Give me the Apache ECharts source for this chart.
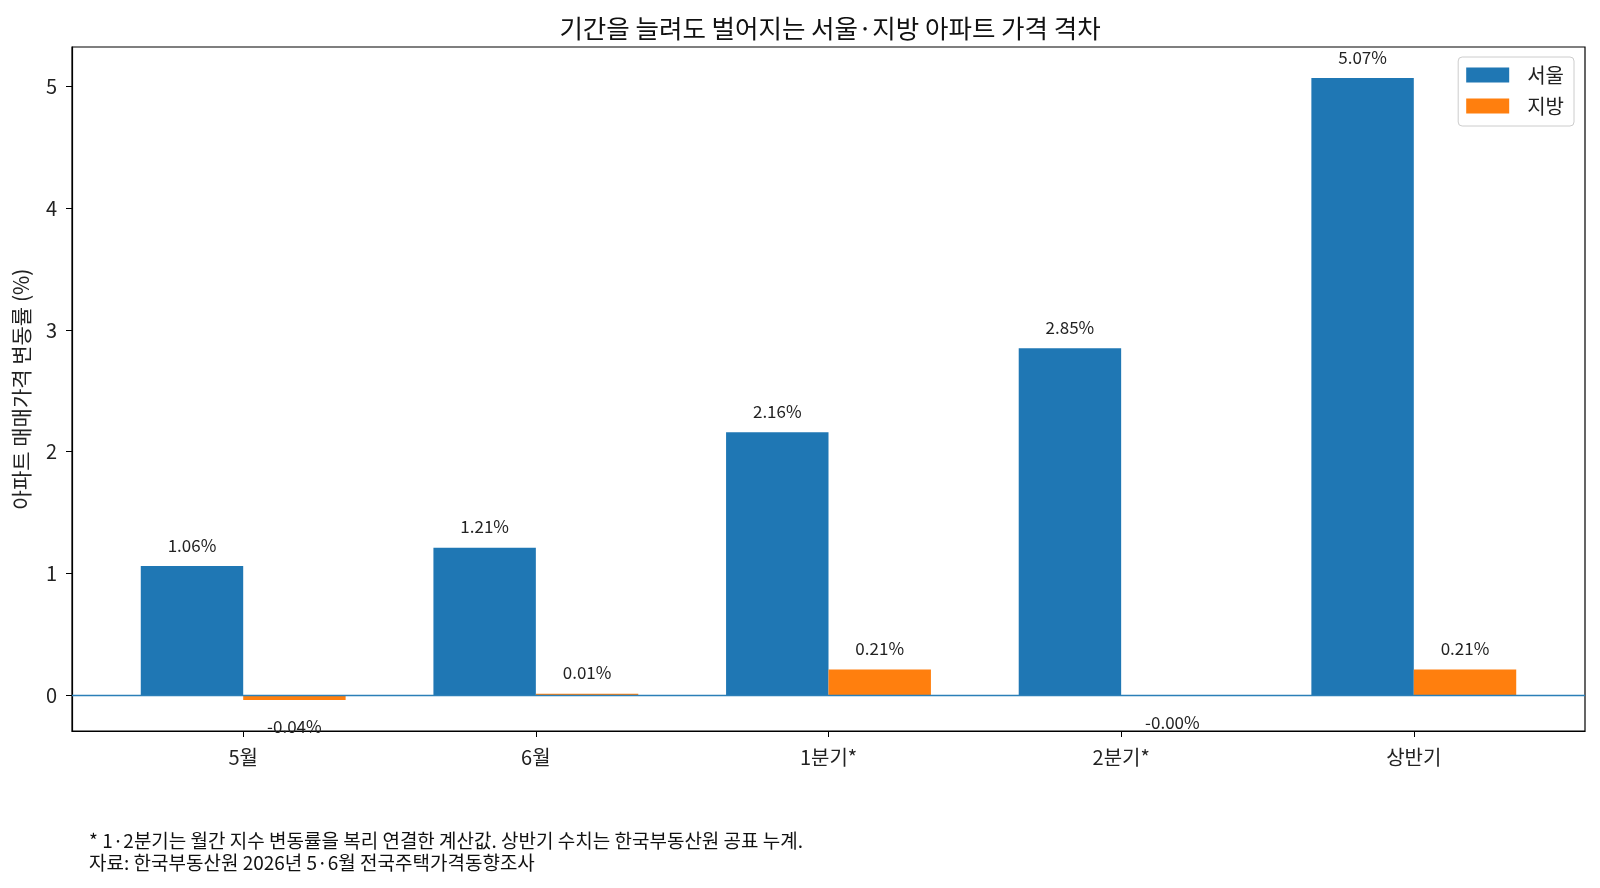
<!DOCTYPE html>
<html><head><meta charset="utf-8">
<script src="https://cdn.jsdelivr.net/npm/echarts@6/dist/echarts.min.js"></script>
<style>html,body{margin:0;padding:0;background:#fff;overflow:hidden}#c{width:1600px;height:888px}</style>
</head><body><div id="c"></div>
<script>
const categories = ['5월', '6월', '1분기*', '2분기*', '상반기'];
const seoul = [1.06, 1.21, 2.16, 2.85, 5.07];
const jibang = [-0.04, 0.01, 0.21, -0.002, 0.21];
const seriesNames = ['서울', '지방'];
const yTicks = [0, 1, 2, 3, 4, 5];
const title = '기간을 늘려도 벌어지는 서울·지방 아파트 가격 격차';
const yName = '아파트 매매가격 변동률 (%)';
const footnote = '* 1·2분기는 월간 지수 변동률을 복리 연결한 계산값. 상반기 수치는 한국부동산원 공표 누계.\n자료: 한국부동산원 2026년 5·6월 전국주택가격동향조사';

const FONT = '"Noto Sans CJK KR", "Noto Sans", sans-serif';
const colors = ['#1f77b4', '#ff7f0e'];
const BW = 0.35;

function fmt(v){ return v.toFixed(2) + '%'; }

function makeRender(s){
  return function(params, api){
    const i = api.value(0), v = api.value(1);
    const x0 = s === 0 ? i - BW : i;
    const p0 = api.coord([x0, v]);
    const p1 = api.coord([x0 + BW, 0]);
    const top = Math.min(p0[1], p1[1]);
    const h = Math.abs(p1[1] - p0[1]);
    const cx = (p0[0] + p1[0]) / 2;
    const pos = v >= 0;
    return {
      type: 'group',
      children: [
        { type: 'rect', shape: { x: p0[0], y: top, width: p1[0] - p0[0], height: h },
          style: { fill: colors[s] } },
        { type: 'text', z2: 10,
          style: { text: fmt(v), x: cx, y: pos ? top - 21 : top + h + 27,
            align: 'center', verticalAlign: 'middle',
            fontSize: 17, fontFamily: FONT, fill: '#222' } }
      ]
    };
  };
}

const chart = echarts.init(document.getElementById('c'));
chart.setOption({
  animation: false,
  title: { text: title, left: 825, top: 11, textAlign: 'center',
    textStyle: { fontSize: 25.5, fontWeight: 'normal', fontFamily: FONT, color: '#111' } },
  grid: { left: 72, right: 15, top: 47, bottom: 157, show: true, borderColor: '#000', borderWidth: 1.2, containLabel: false },
  legend: {
    orient: 'vertical', right: 26, top: 57, padding: [6, 10, 8, 8],
    backgroundColor: '#fff', borderColor: '#ccc', borderWidth: 1, borderRadius: 4,
    itemWidth: 43, itemHeight: 15, itemGap: 7,
    data: seriesNames.map((n, k) => ({ name: n, icon: 'rect', itemStyle: { color: colors[k] } })),
    textStyle: { fontSize: 20, lineHeight: 24, fontFamily: FONT, color: '#222', padding: [0, 0, 0, 13] }
  },
  xAxis: {
    type: 'value', min: -0.585, max: 4.585,
    axisLine: { show: true, onZero: false, lineStyle: { color: '#000', width: 1.2 } },
    axisTick: { show: true, length: 6, customValues: categories.map((c, k) => k), lineStyle: { color: '#000' } },
    axisLabel: { customValues: categories.map((c, k) => k), formatter: v => categories[Math.round(v)],
      fontSize: 20, fontFamily: FONT, color: '#222', margin: 16 },
    splitLine: { show: false }
  },
  yAxis: {
    type: 'value', min: -0.2955, max: 5.3255,
    name: yName, nameLocation: 'middle', nameGap: 40, nameRotate: 90,
    nameTextStyle: { fontSize: 21, fontFamily: FONT, color: '#222' },
    axisLine: { show: true, onZero: false, lineStyle: { color: '#000', width: 1.2 } },
    axisTick: { show: true, length: 6, customValues: yTicks, lineStyle: { color: '#000' } },
    axisLabel: { customValues: yTicks, fontSize: 20, fontFamily: FONT, color: '#222', margin: 15 },
    splitLine: { show: false }
  },
  series: [
    { name: seriesNames[0], type: 'custom', itemStyle: { color: colors[0] },
      renderItem: makeRender(0), data: seoul.map((v, k) => [k, v]) },
    { name: seriesNames[1], type: 'custom', itemStyle: { color: colors[1] },
      renderItem: makeRender(1), data: jibang.map((v, k) => [k, v]),
      markLine: { silent: true, symbol: 'none', z: 20, label: { show: false },
        lineStyle: { color: '#2b7fb8', width: 1.3, type: 'solid', opacity: 1 }, data: [{ yAxis: 0 }] } }
  ],
  graphic: [
    { type: 'text', left: 89, top: 830,
      style: { text: footnote, fontSize: 19, lineHeight: 22, fontFamily: FONT, fill: '#111' } }
  ]
});
</script></body></html>
